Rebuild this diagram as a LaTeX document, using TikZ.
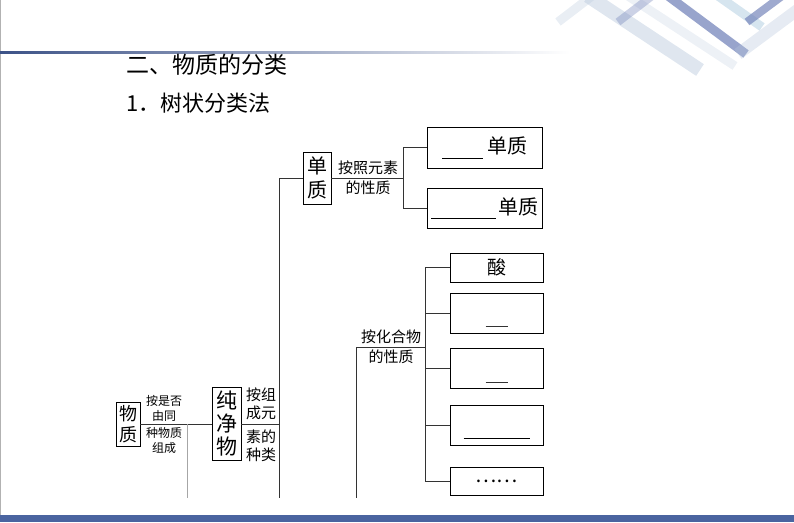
\documentclass[tikz,border=0pt]{standalone}
\usepackage{fontspec}
\newfontfamily\cjk{Noto Sans CJK SC}
\usetikzlibrary{calc}

\definecolor{barblue}{HTML}{4A64A0}
\definecolor{lineblue}{HTML}{3C5287}
\definecolor{stripelight}{HTML}{B7C7DC}
\definecolor{stripecyan}{HTML}{A5C6DC}
\definecolor{stripedark}{HTML}{6C7DB6}
\definecolor{treeline}{HTML}{333333}

\tikzset{
  box/.style={draw=black, line width=0.7pt, inner sep=0pt, align=center, font=\cjk},
  tag/.style={inner sep=0pt, align=center, font=\cjk},
  branch/.style={draw=treeline, line width=0.7pt},
  stripe/.style={line width=#1, opacity=0.45},
}

\begin{document}
\begin{tikzpicture}[x=1pt, y=-1pt]
    \useasboundingbox (0,0) rectangle (794,522);

    % slide frame
    \draw[gray!60, line width=0.8pt] (0.4,0) -- (0.4,515);
    \shade[left color=lineblue, right color=white] (0,51) rectangle (570,53.5);
    \fill[barblue] (0,515) rectangle (794,522);

    % stripes top right
    \draw[stripe=9pt, stripelight, opacity=0.3] (558,22) -- (592,-4);
    \draw[stripe=14pt, stripelight] (588,-4) -- (700,70);
    \draw[stripe=9pt, stripelight, opacity=0.25] (628,-4) -- (735,66);
    \draw[stripe=8pt, stripedark, opacity=0.35] (618,22) -- (652,-4);
    \draw[stripe=9pt, stripedark, opacity=0.7] (668,-4) -- (746,54);
    \draw[stripe=9pt, stripecyan] (718,-4) -- (762,27);
    \draw[stripe=8pt, stripedark, opacity=0.65] (747,22) -- (782,-4);
    \draw[stripe=12pt, stripelight, opacity=0.35] (738,54) -- (800,8);

    % headings
    \node[tag, anchor=west, font=\cjk\fontsize{23}{26}\selectfont] (head) at (126,65) {二、物质的分类};
    \node[tag, anchor=west, font=\cjk\fontsize{22}{26}\selectfont] (sub) at (126,103) {1．树状分类法};

    % boxes of the tree
    \node[box, minimum width=24pt, minimum height=44pt, font=\cjk\fontsize{18}{21}\selectfont] (wuzhi) at (128,424) {物\\质};
    \node[box, minimum width=29pt, minimum height=73pt, font=\cjk\fontsize{21}{23}\selectfont] (chunjing) at (226.5,424) {纯\\净\\物};
    \node[box, minimum width=28pt, minimum height=52pt, font=\cjk\fontsize{20}{24}\selectfont] (danzhi) at (317,178) {单\\质};

    \node[box, minimum width=115pt, minimum height=41pt, font=\cjk\fontsize{20}{24}\selectfont] (dan1) at (484.5,147.5)
        {\raisebox{-5pt}{\rule{41pt}{0.7pt}}\hspace{4pt}单质};
    \node[box, minimum width=115pt, minimum height=40pt, font=\cjk\fontsize{20}{24}\selectfont] (dan2) at (484.5,208)
        {\raisebox{-4pt}{\rule{65pt}{0.7pt}}\hspace{2pt}单质};

    \node[box, minimum width=93pt, minimum height=29pt, font=\cjk\fontsize{19}{22}\selectfont] (suan) at (496.5,267.5) {酸};
    \node[box, minimum width=93pt, minimum height=40pt] (hua2) at (496.5,313) {};
    \node[box, minimum width=93pt, minimum height=40pt] (hua3) at (496.5,368) {};
    \node[box, minimum width=93pt, minimum height=40pt] (hua4) at (496.5,425) {};
    \node[box, minimum width=93pt, minimum height=28pt, font=\cjk\fontsize{20}{24}\selectfont] (hua5) at (496.5,481) {……};

    % blanks in the boxes
    \node[tag] (blank2) at ($(hua2.south)+(0,-7)$) {\color{treeline}\rule{22pt}{0.7pt}};
    \node[tag] (blank3) at ($(hua3.south)+(0,-6)$) {\color{treeline}\rule{22pt}{0.7pt}};
    \node[tag] (blank4) at ($(hua4.south)+(0,-7)$) {\rule{66pt}{1pt}};

    % labels on the branches
    \node[tag, font=\cjk\fontsize{12}{15}\selectfont] (ruleA) at (164,408) {按是否\\由同};
    \node[tag, font=\cjk\fontsize{12}{15}\selectfont] (ruleB) at (164,440) {种物质\\组成};
    \node[tag, font=\cjk\fontsize{15}{18}\selectfont] (ruleC) at (261,404) {按组\\成元};
    \node[tag, font=\cjk\fontsize{15}{18}\selectfont] (ruleD) at (261,446) {素的\\种类};
    \node[tag, font=\cjk\fontsize{15}{18}\selectfont] (ruleE) at (368,168) {按照元素};
    \node[tag, font=\cjk\fontsize{15}{18}\selectfont] (ruleF) at (368,188) {的性质};
    \node[tag, font=\cjk\fontsize{15}{18}\selectfont] (ruleG) at (391,337) {按化合物};
    \node[tag, font=\cjk\fontsize{15}{18}\selectfont] (ruleH) at (391,357) {的性质};

    % tree lines
    \coordinate (t0top) at (187,424);
    \coordinate (t0bot) at (187,498);
    \coordinate (t1top) at (279,178);
    \coordinate (t1bot) at (279,498);
    \coordinate (t2top) at (403,147.5);
    \coordinate (t2bot) at (403,208);
    \coordinate (t3top) at (356,347);
    \coordinate (t3bot) at (356,498);
    \coordinate (t4top) at (425,267.5);
    \coordinate (t4bot) at (425,481);

    \draw[branch] (wuzhi.east) -- (chunjing.west);
    \draw[branch, draw=gray!70] (t0top) -- (t0bot);

    \draw[branch] (chunjing.east) -- (chunjing.east -| t1top);
    \draw[branch] (t1top) -- (t1bot);
    \draw[branch] (t1top) -- (danzhi.west);

    \draw[branch] (danzhi.east) -- (danzhi.east -| t2top);
    \draw[branch] (t2top) -- (t2bot);
    \draw[branch] (t2top) -- (dan1.west);
    \draw[branch] (t2bot) -- (dan2.west);

    \draw[branch] (t3top) -- (t3bot);
    \draw[branch] (t3top) -- (t3top -| t4top);
    \draw[branch] (t4top) -- (t4bot);
    \foreach \b in {suan,hua2,hua3,hua4,hua5}
        \draw[branch] (\b.west -| t4top) -- (\b.west);
\end{tikzpicture}
\end{document}
